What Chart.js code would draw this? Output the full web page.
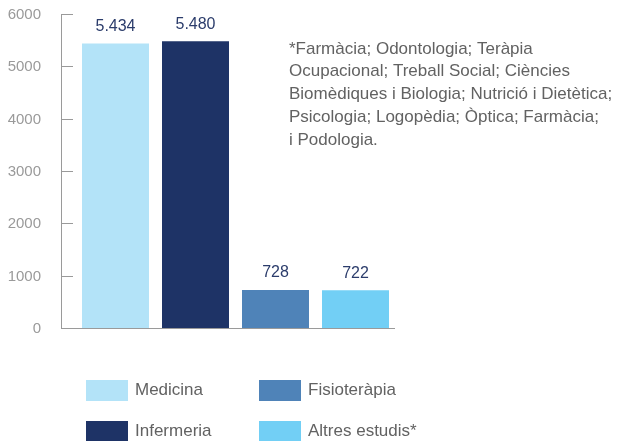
<!DOCTYPE html>
<html><head><meta charset="utf-8">
<script src="https://cdn.jsdelivr.net/npm/chart.js@4"></script>
<style>html,body{margin:0;padding:0;background:#fff;}#wrap{width:635px;height:441px;position:relative;overflow:hidden}</style>
</head><body><div id="wrap"><canvas id="c" width="635" height="441"></canvas></div>
<script>
const categories = ['Medicina', 'Infermeria', 'Fisioteràpia', 'Altres estudis*'];
const values = [5434, 5480, 728, 722];
const valueLabels = ['5.434', '5.480', '728', '722'];
const barColors = ['#b3e3f8', '#1e3366', '#4f83b8', '#72cff5'];
const yMin = 0, yMax = 6000, yStep = 1000;
const noteLines = [
  '*Farmàcia; Odontologia; Teràpia',
  'Ocupacional; Treball Social; Ciències',
  'Biomèdiques i Biologia; Nutrició i Dietètica;',
  'Psicologia; Logopèdia; Òptica; Farmàcia;',
  'i Podologia.'
];
const FONT = '"Liberation Sans", Arial, Helvetica, sans-serif';

const extras = {
  id: 'extras',
  afterDraw(chart) {
    const ctx = chart.ctx;
    const ys = chart.scales.y;
    const area = chart.chartArea;
    ctx.save();
    ctx.strokeStyle = '#9a9a9a';
    ctx.lineWidth = 1;
    ys.ticks.forEach(t => {
      if (t.value === 0) return;
      const y = Math.round(ys.getPixelForValue(t.value)) + 0.5;
      ctx.beginPath();
      ctx.moveTo(area.left, y);
      ctx.lineTo(area.left + 12, y);
      ctx.stroke();
    });
    const meta = chart.getDatasetMeta(0);
    ctx.fillStyle = '#2b3c6b';
    ctx.font = '16px ' + FONT;
    ctx.textAlign = 'center';
    ctx.textBaseline = 'middle';
    meta.data.forEach((bar, i) => {
      ctx.fillText(valueLabels[i], bar.x, bar.y - 17);
    });
    ctx.fillStyle = '#626262';
    ctx.font = '17px ' + FONT;
    ctx.textAlign = 'left';
    noteLines.forEach((line, i) => {
      ctx.fillText(line, 289, 49 + i * 22.75);
    });
    categories.forEach((name, i) => {
      const col = Math.floor(i / 2), row = i % 2;
      const sx = col === 0 ? 86 : 259;
      const sy = row === 0 ? 380 : 421;
      ctx.fillStyle = barColors[i];
      ctx.fillRect(sx, sy, 42, 21);
      ctx.fillStyle = '#626262';
      ctx.font = '17px ' + FONT;
      ctx.textBaseline = 'middle';
      ctx.fillText(name, sx + 49, sy + 10.5);
    });
    ctx.restore();
  }
};

new Chart(document.getElementById('c'), {
  type: 'bar',
  data: {
    datasets: [{
      data: values.map((v, i) => ({ x: i, y: v })),
      backgroundColor: barColors,
      borderWidth: 0,
      barPercentage: 67 / 80,
      categoryPercentage: 1
    }]
  },
  options: {
    responsive: false,
    animation: false,
    devicePixelRatio: 1,
    layout: { padding: { top: 14, right: 241, left: 0, bottom: 0 } },
    plugins: { legend: { display: false }, tooltip: { enabled: false } },
    scales: {
      x: {
        type: 'linear',
        offset: false,
        min: -0.68125,
        max: 3.48125,
        ticks: { display: false },
        grid: { display: false, offset: false },
        border: { display: true, color: '#9a9a9a', width: 1 },
        afterFit(s) { s.height = 113; s.paddingLeft = 0; s.paddingRight = 0; }
      },
      y: {
        min: yMin,
        max: yMax,
        ticks: { stepSize: yStep, color: '#9a9a9a', font: { size: 15, family: FONT }, padding: 12,
                 labelOffset: 1, callback: v => String(v) },
        grid: { display: false },
        border: { display: true, color: '#9a9a9a', width: 1 },
        afterFit(s) { s.width = 61; s.paddingTop = 0; s.paddingBottom = 0; }
      }
    }
  },
  plugins: [extras]
});
</script>
</body></html>
